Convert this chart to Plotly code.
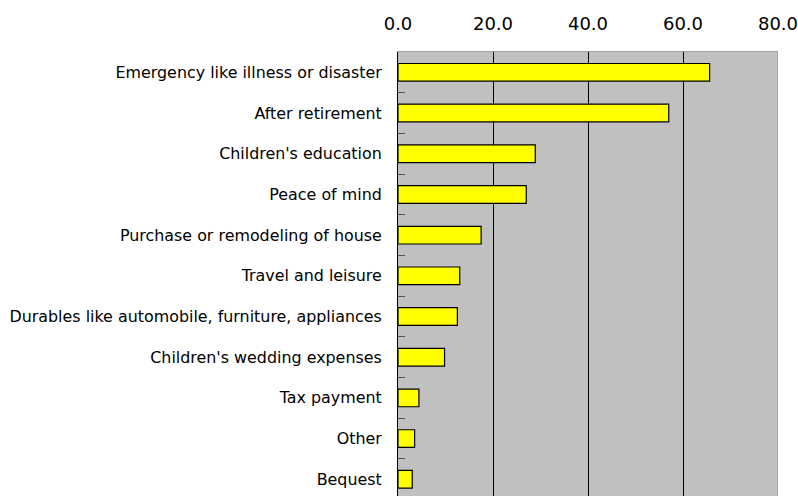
import plotly.graph_objects as go

categories = [
    "Emergency like illness or disaster",
    "After retirement",
    "Children's education",
    "Peace of mind",
    "Purchase or remodeling of house",
    "Travel and leisure",
    "Durables like automobile, furniture, appliances",
    "Children's wedding expenses",
    "Tax payment",
    "Other",
    "Bequest",
]
values = [65.6, 57.0, 28.9, 27.0, 17.5, 13.0, 12.5, 9.8, 4.4, 3.5, 3.0]
x_ticks = [0, 20, 40, 60, 80]
x_tick_labels = ["0.0", "20.0", "40.0", "60.0", "80.0"]

fig = go.Figure(
    go.Bar(
        x=values,
        y=categories,
        orientation="h",
        marker=dict(color="#FFFF00", line=dict(color="#000000", width=1.2)),
        width=0.435,
        hoverinfo="x+y",
    )
)

fig.update_layout(
    width=798,
    height=496,
    margin=dict(l=398, r=20, t=52, b=0, pad=0),
    paper_bgcolor="white",
    plot_bgcolor="#C0C0C0",
    font=dict(family="DejaVu Sans", color="black"),
    showlegend=False,
    xaxis=dict(
        side="top",
        range=[0, 80],
        tickvals=x_ticks,
        ticktext=x_tick_labels,
        tickfont=dict(size=18, family="DejaVu Sans", color="black"),
        showgrid=True,
        gridcolor="black",
        gridwidth=1,
        zeroline=False,
        showline=True,
        linecolor="#A0A0A0",
        linewidth=1,
        ticks="",
        ticklabelstandoff=14,
        ticklabeloverflow="allow",
    ),
    yaxis=dict(
        type="category",
        categoryorder="array",
        categoryarray=categories,
        range=[10.41, -0.5],
        tickfont=dict(size=15.9, family="DejaVu Sans", color="black"),
        showline=True,
        linecolor="black",
        linewidth=1,
        ticks="inside",
        tickson="boundaries",
        ticklen=7,
        tickcolor="#555555",
        tickwidth=1,
        showgrid=False,
        zeroline=False,
        ticklabelstandoff=12,
    ),
    shapes=[
        dict(type="line", xref="x", yref="paper", x0=80, x1=80, y0=0, y1=1,
             line=dict(color="#A0A0A0", width=1.5), layer="above"),
    ],
)

fig.write_html("out.html")
